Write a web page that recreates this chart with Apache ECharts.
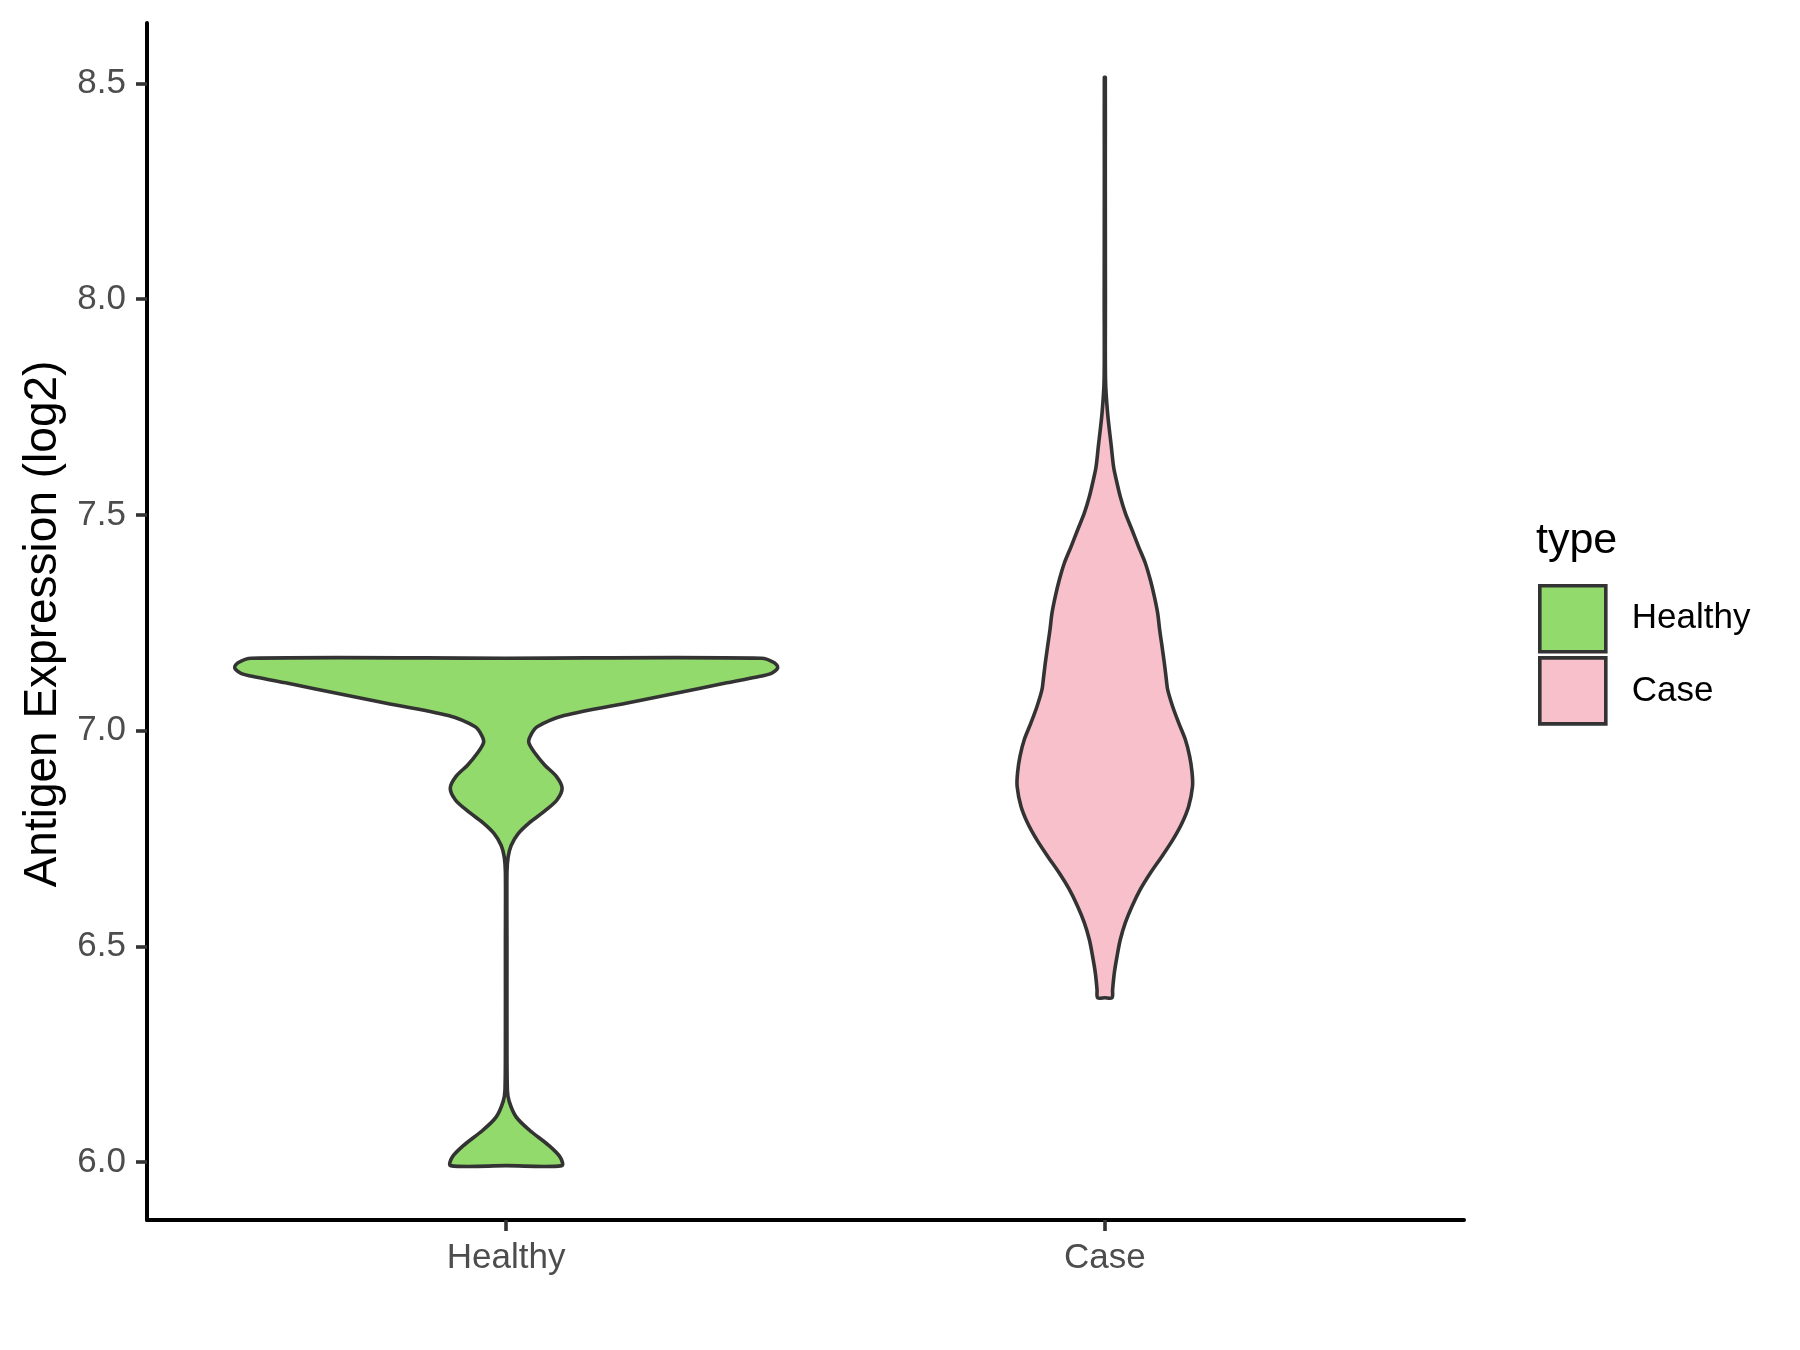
<!DOCTYPE html>
<html>
<head>
<meta charset="utf-8">
<script src="https://cdn.jsdelivr.net/npm/echarts@6/dist/echarts.min.js"></script>
<style>
html,body{margin:0;padding:0;background:#fff;}
#chart{width:1800px;height:1350px;}
</style>
</head>
<body>
<div id="chart"></div>
<script>
// ---- data ----
const categories = ['Healthy', 'Case'];
const yTicks = [6.0, 6.5, 7.0, 7.5, 8.0, 8.5];
const legendTitle = 'type';
const yTitle = 'Antigen Expression (log2)';

// Healthy violin outline: y levels (bottom -> top) and half-widths (category units)
const healthyY = [5.992, 6.012, 6.039, 6.074, 6.105, 6.141, 6.167, 6.30, 6.50, 6.672, 6.707, 6.734, 6.761, 6.787, 6.814, 6.840, 6.867, 6.894, 6.920, 6.947, 6.973, 6.991, 7.009, 7.035, 7.066, 7.097, 7.111, 7.124, 7.133, 7.146, 7.1575, 7.168];
const healthyHalfWidth = [0.093, 0.090, 0.071, 0.039, 0.0166, 0.005, 0.002, 0.0013, 0.0013, 0.0013, 0.0032, 0.0083, 0.0198, 0.039, 0.0646, 0.0851, 0.0934, 0.0838, 0.0646, 0.0486, 0.0377, 0.0416, 0.0518, 0.0966, 0.2086, 0.3205, 0.3685, 0.4165, 0.443, 0.4536, 0.448, 0.426];

// Case violin outline
const caseY = [6.381, 6.400, 6.439, 6.477, 6.516, 6.555, 6.593, 6.632, 6.670, 6.709, 6.748, 6.786, 6.825, 6.871, 6.902, 6.940, 6.979, 7.018, 7.056, 7.095, 7.118, 7.156, 7.195, 7.234, 7.272, 7.311, 7.349, 7.388, 7.426, 7.465, 7.504, 7.542, 7.581, 7.611, 7.658, 7.735, 7.812, 8.0, 8.3, 8.514];
const caseHalfWidth = [0.012, 0.013, 0.0159, 0.0204, 0.0259, 0.0343, 0.0455, 0.0593, 0.0761, 0.0956, 0.114, 0.129, 0.1401, 0.1465, 0.1458, 0.1418, 0.1346, 0.1234, 0.1133, 0.105, 0.1028, 0.0995, 0.0956, 0.0916, 0.0883, 0.0827, 0.0761, 0.0677, 0.0565, 0.0455, 0.0343, 0.0259, 0.0192, 0.0147, 0.0109, 0.0047, 0.0012, 0.0010, 0.0008, 0.0008];

const colors = ['#92DA6B', '#F7C0CB'];
const FONT = "'Liberation Sans', Arial, Helvetica, sans-serif";

function violinRenderer(center, ys, hws, fill) {
  return function (params, api) {
    const n = ys.length;
    const pts = [];
    // flat bottom edge: pass through the centre so the closing edge stays straight
    pts.push(api.coord([center, ys[0]]));
    for (let i = 0; i < n; i++) pts.push(api.coord([center + hws[i], ys[i]]));
    // flat top edge
    pts.push(api.coord([center, ys[n - 1]]));
    for (let i = n - 1; i >= 0; i--) pts.push(api.coord([center - hws[i], ys[i]]));
    return {
      type: 'polygon',
      shape: { points: pts, smooth: 0.3 },
      style: { fill: fill, stroke: '#333333', lineWidth: 3.6, lineJoin: 'round' }
    };
  };
}

const chart = echarts.init(document.getElementById('chart'), null, { renderer: 'canvas' });
const option = {
  animation: false,
  backgroundColor: '#ffffff',
  textStyle: { fontFamily: FONT },
  grid: { left: 147, top: 23, width: 1317, height: 1197, containLabel: false },
  xAxis: {
    type: 'value', min: 0.4, max: 2.6,
    axisLine: { show: true, onZero: false, lineStyle: { color: '#000', width: 4 } },
    axisTick: { show: true, customValues: [1, 2], length: 11, lineStyle: { color: '#333', width: 3.6 } },
    axisLabel: { show: true, customValues: [1, 2], formatter: v => categories[Math.round(v) - 1], fontSize: 35, color: '#4D4D4D', margin: 21, fontFamily: FONT },
    splitLine: { show: false }
  },
  yAxis: {
    type: 'value', min: 5.866, max: 8.640,
    axisLine: { show: true, onZero: false, lineStyle: { color: '#000', width: 4 } },
    axisTick: { show: true, customValues: yTicks, length: 11, lineStyle: { color: '#333', width: 3.6 } },
    axisLabel: { show: true, customValues: yTicks, formatter: v => Number(v).toFixed(1), fontSize: 35, color: '#4D4D4D', margin: 21, fontFamily: FONT },
    splitLine: { show: false }
  },
  legend: {
    data: categories,
    orient: 'vertical',
    left: 1538, top: 584,
    padding: 0,
    itemWidth: 66, itemHeight: 66, itemGap: 2.5,
    icon: 'rect',
    selectedMode: false,
    itemStyle: { borderColor: '#333', borderWidth: 3.6 },
    textStyle: { fontSize: 35, color: '#000', fontFamily: FONT, padding: [10, 0, 0, 21] }
  },
  graphic: [
    { type: 'text', x: 43, y: 624, rotation: Math.PI / 2,
      style: { text: yTitle, font: '46px ' + FONT, fill: '#000', textAlign: 'center', textVerticalAlign: 'middle' } },
    { type: 'text', x: 1536, y: 541,
      style: { text: legendTitle, font: '43px ' + FONT, fill: '#000', textAlign: 'left', textVerticalAlign: 'middle' } }
  ],
  series: [
    { type: 'custom', name: categories[0], coordinateSystem: 'cartesian2d',
      itemStyle: { color: colors[0], borderColor: '#333', borderWidth: 3.6 },
      data: [[1, 7]], encode: { x: 0, y: 1 },
      renderItem: violinRenderer(1, healthyY, healthyHalfWidth, colors[0]) },
    { type: 'custom', name: categories[1], coordinateSystem: 'cartesian2d',
      itemStyle: { color: colors[1], borderColor: '#333', borderWidth: 3.6 },
      data: [[2, 7]], encode: { x: 0, y: 1 },
      renderItem: violinRenderer(2, caseY, caseHalfWidth, colors[1]) }
  ]
};
chart.setOption(option);
</script>
</body>
</html>
